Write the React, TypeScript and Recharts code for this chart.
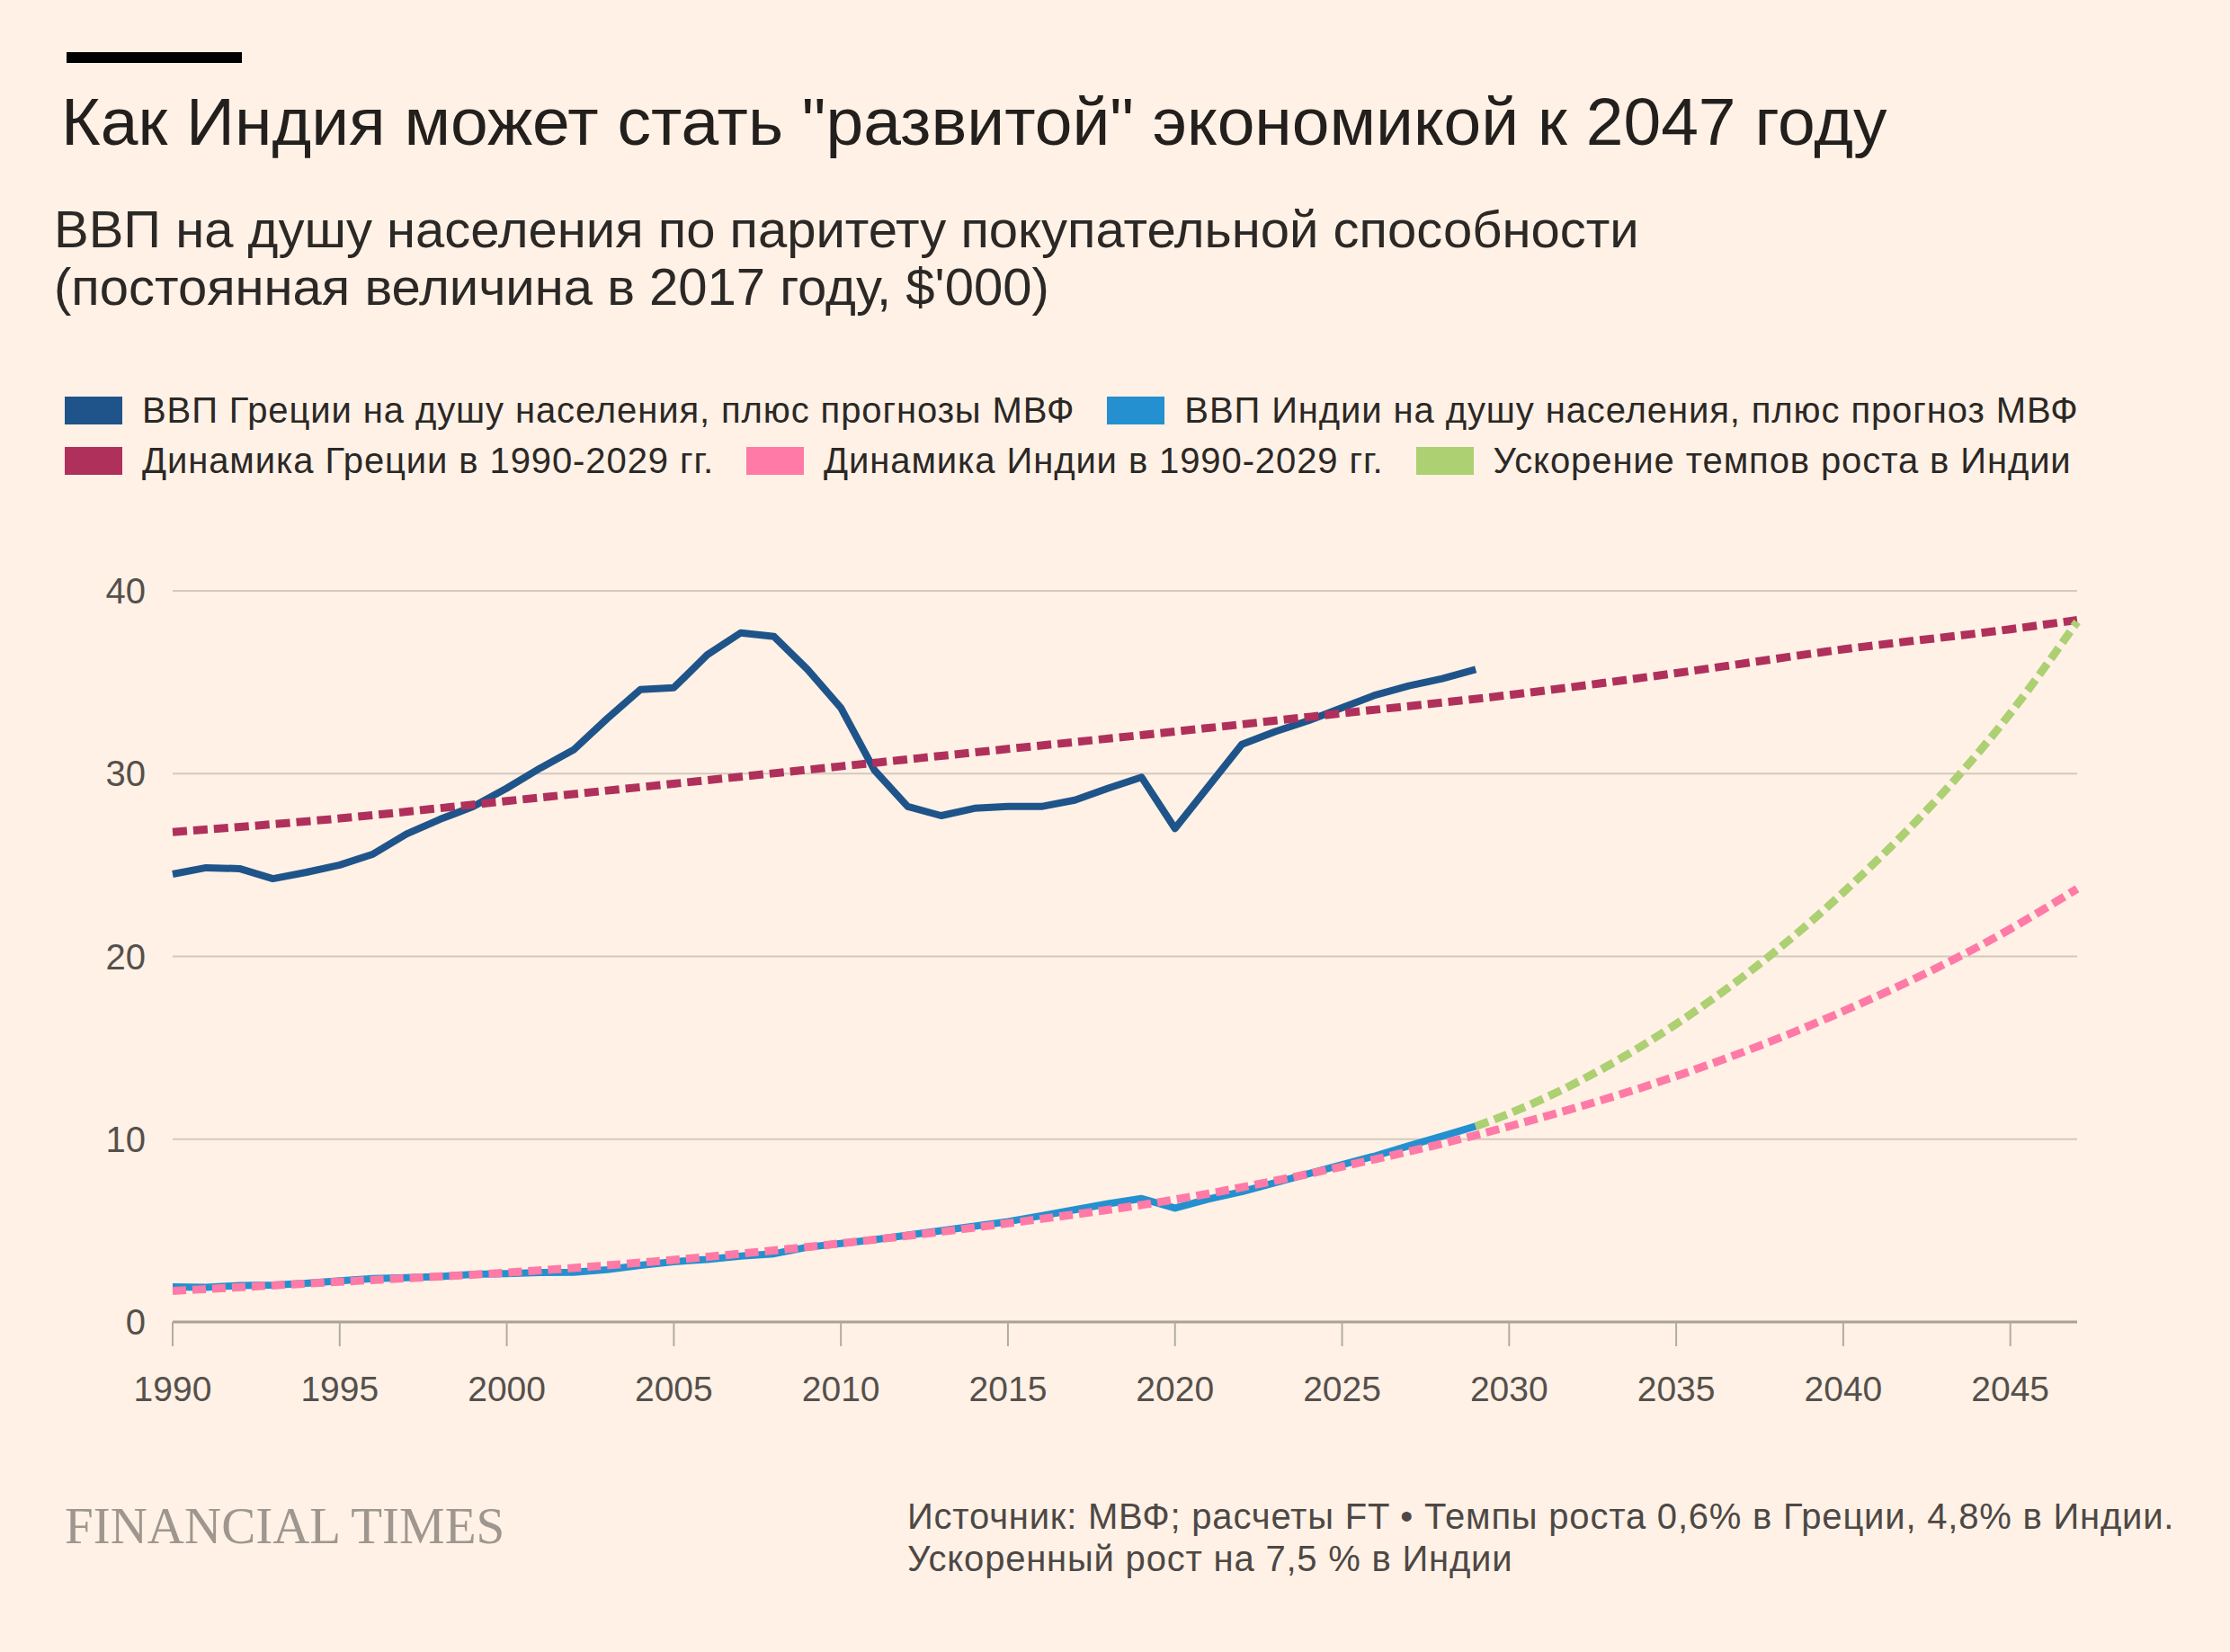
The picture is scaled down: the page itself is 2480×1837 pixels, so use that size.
import React from 'react';
import { LineChart, Line, XAxis, YAxis, CartesianGrid } from 'recharts';

// actual + IMF forecast, $'000 per head (2017 PPP)
const actualYears = [
  1990, 1991, 1992, 1993, 1994, 1995, 1996, 1997, 1998, 1999,
  2000, 2001, 2002, 2003, 2004, 2005, 2006, 2007, 2008, 2009,
  2010, 2011, 2012, 2013, 2014, 2015, 2016, 2017, 2018, 2019,
  2020, 2021, 2022, 2023, 2024, 2025, 2026, 2027, 2028, 2029,
];
const greeceGdp = [
  24.5, 24.85, 24.8, 24.25, 24.6, 25.0, 25.6, 26.7, 27.5, 28.2,
  29.2, 30.3, 31.3, 33.0, 34.6, 34.7, 36.5, 37.7, 37.5, 35.7,
  33.6, 30.2, 28.2, 27.7, 28.1, 28.2, 28.2, 28.55, 29.2, 29.8,
  27.0, 29.3, 31.6, 32.3, 32.9, 33.6, 34.3, 34.8, 35.2, 35.7,
];
const indiaGdp = [
  1.92, 1.9, 1.99, 2.02, 2.12, 2.25, 2.37, 2.42, 2.48, 2.61,
  2.65, 2.7, 2.72, 2.86, 3.1, 3.3, 3.42, 3.6, 3.73, 4.09,
  4.29, 4.5, 4.75, 4.99, 5.24, 5.49, 5.81, 6.14, 6.47, 6.75,
  6.23, 6.72, 7.13, 7.62, 8.11, 8.6, 9.09, 9.64, 10.17, 10.71,
];

// trend lines, read at 5-year steps
const trendYears = [1990, 1995, 2000, 2005, 2010, 2015, 2020, 2025, 2030, 2035, 2040, 2045, 2047];
const greeceTrend = [26.8, 27.55, 28.5, 29.45, 30.4, 31.35, 32.3, 33.3, 34.3, 35.5, 36.8, 37.9, 38.4];
const indiaTrend = [1.7, 2.2, 2.7, 3.4, 4.3, 5.4, 6.7, 8.5, 10.7, 13.45, 17.0, 21.5, 23.7];

const fastYears = [2029, 2030, 2035, 2040, 2045, 2047];
const indiaFast = [10.7, 11.4, 16.3, 23.5, 33.3, 38.3];

const xTicks = [1990, 1995, 2000, 2005, 2010, 2015, 2020, 2025, 2030, 2035, 2040, 2045];
const yTicks = [0, 10, 20, 30, 40];

const legendRows = [
  [
    { label: 'ВВП Греции на душу населения, плюс прогнозы МВФ', color: '#1f548a' },
    { label: 'ВВП Индии на душу населения, плюс прогноз МВФ', color: '#2490d0' },
  ],
  [
    { label: 'Динамика Греции в 1990-2029 гг.', color: '#b0305c' },
    { label: 'Динамика Индии в 1990-2029 гг.', color: '#ff7aa6' },
    { label: 'Ускорение темпов роста в Индии', color: '#acd072' },
  ],
];

const toRows = (xs: number[], ys: number[]) => xs.map((year, i) => ({ year, value: ys[i] }));

const FONT = '"Liberation Sans", Arial, sans-serif';

const App: React.FC = () => {
  return (
    <div
      style={{
        position: 'absolute',
        left: 0,
        top: 0,
        width: 2480,
        height: 1837,
        background: '#fff1e5',
        fontFamily: FONT,
        overflow: 'hidden',
      }}
    >
      <div style={{ position: 'absolute', left: 74, top: 58, width: 195, height: 12, background: '#000' }} />
      <div
        style={{
          position: 'absolute',
          left: 68,
          top: 90,
          fontSize: 75,
          lineHeight: '90px',
          color: '#221f1d',
          whiteSpace: 'nowrap',
        }}
      >
        Как Индия может стать "развитой" экономикой к 2047 году
      </div>
      <div
        style={{
          position: 'absolute',
          left: 60,
          top: 223,
          fontSize: 58,
          lineHeight: '64px',
          color: '#2b2826',
          whiteSpace: 'nowrap',
        }}
      >
        ВВП на душу населения по паритету покупательной способности
        <br />
        (постоянная величина в 2017 году, $'000)
      </div>

      {/* legend */}
      <div style={{ position: 'absolute', left: 72, top: 440 }}>
        {legendRows.map((row, r) => (
          <div key={r} style={{ display: 'flex', alignItems: 'center', height: 32, marginBottom: 24 }}>
            {row.map((item) => (
              <div key={item.label} style={{ display: 'flex', alignItems: 'center', marginRight: 36 }}>
                <div style={{ width: 64, height: 31, background: item.color, marginRight: 22 }} />
                <span style={{ fontSize: 40, letterSpacing: 0.9, color: '#2b2826', whiteSpace: 'nowrap' }}>
                  {item.label}
                </span>
              </div>
            ))}
          </div>
        ))}
      </div>

      <div style={{ position: 'absolute', left: 0, top: 600 }}>
        <LineChart width={2480} height={1000} margin={{ top: 57, right: 170, bottom: 30, left: 42 }}>
          <CartesianGrid vertical={false} stroke="#d4c9bd" strokeWidth={2} />
          <XAxis
            type="number"
            dataKey="year"
            domain={[1990, 2047]}
            ticks={xTicks}
            allowDuplicatedCategory={false}
            height={100}
            stroke="#aaa197"
            axisLine={{ stroke: '#aaa197', strokeWidth: 3 }}
            tickLine={{ stroke: '#b3aba2', strokeWidth: 2 }}
            tickSize={27}
            tickMargin={33}
            tick={{ fill: '#55504c', fontSize: 39, fontFamily: FONT }}
          />
          <YAxis
            type="number"
            domain={[0, 40]}
            ticks={yTicks}
            width={150}
            axisLine={false}
            tickLine={false}
            tickSize={0}
            tickMargin={30}
            tick={{ fill: '#55504c', fontSize: 40, fontFamily: FONT }}
          />
          <Line
            data={toRows(actualYears, greeceGdp)}
            dataKey="value"
            stroke="#1f548a"
            strokeWidth={8}
            strokeLinejoin="round"
            dot={false}
            isAnimationActive={false}
          />
          <Line
            data={toRows(actualYears, indiaGdp)}
            dataKey="value"
            stroke="#2490d0"
            strokeWidth={8}
            strokeLinejoin="round"
            dot={false}
            isAnimationActive={false}
          />
          <Line
            data={toRows(trendYears, greeceTrend)}
            type="monotone"
            dataKey="value"
            stroke="#b0305c"
            strokeWidth={9}
            strokeDasharray="16 7"
            dot={false}
            isAnimationActive={false}
          />
          <Line
            data={toRows(fastYears, indiaFast)}
            type="monotone"
            dataKey="value"
            stroke="#acd072"
            strokeWidth={9}
            strokeDasharray="15 7"
            dot={false}
            isAnimationActive={false}
          />
          <Line
            data={toRows(trendYears, indiaTrend)}
            type="monotone"
            dataKey="value"
            stroke="#ff7aa6"
            strokeWidth={9}
            strokeDasharray="15 7"
            dot={false}
            isAnimationActive={false}
          />
        </LineChart>
      </div>

      <div
        style={{
          position: 'absolute',
          left: 72,
          top: 1664,
          fontFamily: '"Liberation Serif", "Times New Roman", serif',
          fontSize: 57,
          lineHeight: '66px',
          color: '#9e968f',
          whiteSpace: 'nowrap',
        }}
      >
        FINANCIAL TIMES
      </div>
      <div
        style={{
          position: 'absolute',
          left: 1009,
          top: 1663,
          fontSize: 40,
          letterSpacing: 0.8,
          lineHeight: '47px',
          color: '#4d4845',
          whiteSpace: 'nowrap',
        }}
      >
        Источник: МВФ; расчеты FT • Темпы роста 0,6% в Греции, 4,8% в Индии.
        <br />
        Ускоренный рост на 7,5 % в Индии
      </div>
    </div>
  );
};

export default App;
